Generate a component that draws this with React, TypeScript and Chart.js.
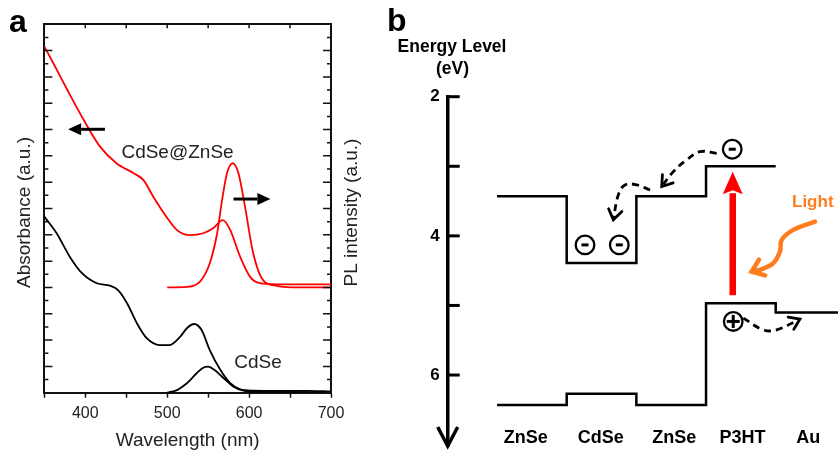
import React, { useEffect, useRef } from 'react';
import { Chart, registerables } from 'chart.js';

Chart.register(...registerables);

const FONT = "'Liberation Sans', Arial, Helvetica, sans-serif";

// ---------------- Panel a data ----------------
const wavelengthTickValues = [350, 400, 450, 500, 550, 600, 650, 700];
const wavelengthTickLabels = [400, 500, 600, 700];
const intensityTickValues = [0, 0.5, 1, 1.5, 2, 2.5, 3, 3.5, 4, 4.5, 5, 5.5, 6, 6.5, 7, 7.5, 8, 8.5, 9, 9.5, 10, 10.5, 11, 11.5, 12, 12.5, 13, 13.5, 14];

const absShellNm = [350, 361, 377, 398, 418, 438, 459, 471, 483, 499, 512, 528, 544, 556, 568, 577, 589, 601, 613, 634, 660, 700];
const absShellVal = [13.15, 12.52, 11.57, 10.37, 9.35, 8.72, 8.34, 8.08, 7.45, 6.69, 6.18, 5.99, 6.06, 6.25, 6.56, 6.18, 5.17, 4.41, 4.16, 4.12, 4.12, 4.12];

const plShellNm = [500, 524, 540, 552, 561, 567, 573, 580, 587, 595, 605, 617, 634, 660, 700];
const plShellVal = [4.0, 4.02, 4.22, 4.92, 6.06, 7.32, 8.34, 8.72, 8.34, 7.07, 5.3, 4.28, 4.06, 4.0, 4.0];

const absCoreNm = [350, 365, 381, 396, 414, 430, 440, 451, 463, 475, 491, 503, 516, 524, 533, 542, 552, 565, 577, 589, 605, 640, 670, 700];
const absCoreVal = [6.69, 6.06, 5.17, 4.54, 4.16, 4.07, 3.9, 3.4, 2.64, 2.07, 1.81, 1.81, 2.13, 2.45, 2.61, 2.38, 1.62, 0.86, 0.36, 0.13, 0.08, 0.07, 0.07, 0.05];

const plCoreNm = [500, 512, 524, 536, 544, 550, 558, 569, 581, 593, 610, 700];
const plCoreVal = [0, 0.1, 0.36, 0.74, 0.95, 0.99, 0.86, 0.55, 0.23, 0.08, 0.03, 0.02];

const absArrowNm = [424, 379];
const absArrowVal = [10.01, 10.01];
const plArrowNm = [581, 626];
const plArrowVal = [7.36, 7.36];

const sampleLabels = ['CdSe@ZnSe', 'CdSe'];
const sampleLabelNm = [512.6, 610.9];
const sampleLabelVal = [8.91, 0.93];

// ---------------- Panel b data ----------------
const layerNames = ['ZnSe', 'CdSe', 'ZnSe', 'P3HT', 'Au'];
const layerBounds = [0, 1, 2, 3, 4, 4.894];
const layerLabelX = [0.413, 1.49, 2.543, 3.523, 4.468];
const cbLevels = [3.43, 4.39, 3.43, 3.0];
const vbLevels = [6.43, 6.27, 6.43, 4.97, 5.1];
const energyTicks = [2, 3, 4, 5, 6];
const energyTickLabels = [2, 4, 6];

const electronX = [1.263, 1.755, 3.376];
const electronY = [4.13, 4.13, 2.755];
const holeX = [3.39];
const holeY = [5.23];

const excitationX = [3.383, 3.383];
const excitationY = [4.853, 3.387];
const excitationTipY = 3.077;

const transfer1X = [3.153, 2.913, 2.722, 2.53, 2.364];
const transfer1Y = [2.813, 2.79, 2.909, 3.077, 3.292];
const transfer2X = [2.196, 2.005, 1.837, 1.741, 1.669];
const transfer2Y = [3.34, 3.268, 3.268, 3.411, 3.77];
const transfer3X = [3.535, 3.822, 4.014, 4.348];
const transfer3Y = [5.182, 5.35, 5.35, 5.196];
const lightX = [4.564, 4.252, 4.086, 4.061, 3.965, 3.774, 3.655];
const lightY = [3.795, 3.914, 4.058, 4.225, 4.392, 4.488, 4.513];
const lightLabelX = 4.532;
const lightLabelY = 3.584;

const ORANGE = '#ff7d1e';

function pts(xs: number[], ys: number[]) {
  return xs.map((x, i) => ({ x, y: ys[i] }));
}

function stepPath(bounds: number[], levels: number[]) {
  const out: { x: number; y: number }[] = [];
  levels.forEach((lv, i) => {
    out.push({ x: bounds[i], y: lv });
    out.push({ x: bounds[i + 1], y: lv });
  });
  return out;
}

function filledArrow(ctx: CanvasRenderingContext2D, x0: number, y0: number, x1: number, y1: number, lw: number, headLen: number, headHalf: number, color: string) {
  const ang = Math.atan2(y1 - y0, x1 - x0);
  const bx = x1 - headLen * Math.cos(ang);
  const by = y1 - headLen * Math.sin(ang);
  ctx.save();
  ctx.strokeStyle = color;
  ctx.lineWidth = lw;
  ctx.lineCap = 'butt';
  ctx.beginPath();
  ctx.moveTo(x0, y0);
  ctx.lineTo(bx, by);
  ctx.stroke();
  ctx.fillStyle = color;
  ctx.beginPath();
  ctx.moveTo(x1, y1);
  ctx.lineTo(bx + headHalf * Math.sin(ang), by - headHalf * Math.cos(ang));
  ctx.lineTo(bx - headHalf * Math.sin(ang), by + headHalf * Math.cos(ang));
  ctx.closePath();
  ctx.fill();
  ctx.restore();
}

function openHead(ctx: CanvasRenderingContext2D, tipX: number, tipY: number, fromX: number, fromY: number, len: number, half: number, lw: number, color: string) {
  const ang = Math.atan2(tipY - fromY, tipX - fromX);
  ctx.save();
  ctx.setLineDash([]);
  ctx.strokeStyle = color;
  ctx.lineWidth = lw;
  ctx.lineCap = 'round';
  ctx.lineJoin = 'miter';
  ctx.beginPath();
  ctx.moveTo(tipX - len * Math.cos(ang - half), tipY - len * Math.sin(ang - half));
  ctx.lineTo(tipX, tipY);
  ctx.lineTo(tipX - len * Math.cos(ang + half), tipY - len * Math.sin(ang + half));
  ctx.stroke();
  ctx.restore();
}

const zeroPad = (s: any) => {
  s.paddingTop = 0;
  s.paddingBottom = 0;
  s.paddingLeft = 0;
  s.paddingRight = 0;
};

const panelAPlugin = {
  id: 'panelA',
  afterDraw(chart: any) {
    const { ctx, chartArea: ca, scales } = chart;
    const x = scales.x;
    const y = scales.y;
    ctx.save();
    ctx.strokeStyle = '#111';
    ctx.lineWidth = 1.5;
    y.ticks.forEach((t: any) => {
      const py = y.getPixelForValue(t.value);
      const len = Number.isInteger(t.value) ? 8 : 4;
      ctx.beginPath();
      ctx.moveTo(ca.left, py);
      ctx.lineTo(ca.left + len, py);
      ctx.moveTo(ca.right, py);
      ctx.lineTo(ca.right - len, py);
      ctx.stroke();
    });
    scales.x2.ticks.forEach((t: any) => {
      const px = scales.x2.getPixelForValue(t.value);
      ctx.beginPath();
      ctx.moveTo(px, ca.top);
      ctx.lineTo(px, ca.top + 4);
      ctx.stroke();
    });
    filledArrow(ctx, x.getPixelForValue(absArrowNm[0]), y.getPixelForValue(absArrowVal[0]), x.getPixelForValue(absArrowNm[1]), y.getPixelForValue(absArrowVal[1]), 3, 13, 6, '#000');
    filledArrow(ctx, x.getPixelForValue(plArrowNm[0]), y.getPixelForValue(plArrowVal[0]), x.getPixelForValue(plArrowNm[1]), y.getPixelForValue(plArrowVal[1]), 3, 13, 6, '#000');
    ctx.fillStyle = '#222';
    ctx.font = `19px ${FONT}`;
    ctx.textAlign = 'center';
    ctx.textBaseline = 'alphabetic';
    sampleLabels.forEach((s, i) => {
      ctx.fillText(s, x.getPixelForValue(sampleLabelNm[i]), y.getPixelForValue(sampleLabelVal[i]));
    });
    const midY = 212.5;
    ctx.textBaseline = 'middle';
    ctx.save();
    ctx.translate(25, midY);
    ctx.rotate(-Math.PI / 2);
    ctx.fillText('Absorbance (a.u.)', 0, 0);
    ctx.restore();
    ctx.save();
    ctx.translate(ca.right + 21, midY);
    ctx.rotate(-Math.PI / 2);
    ctx.fillText('PL intensity (a.u.)', 0, 0);
    ctx.restore();
    ctx.fillStyle = '#000';
    ctx.font = `bold 32px ${FONT}`;
    ctx.textAlign = 'left';
    ctx.textBaseline = 'alphabetic';
    ctx.fillText('a', 9, 32);
    ctx.restore();
  },
};

const panelBPlugin = {
  id: 'panelB',
  afterDraw(chart: any) {
    const { ctx, chartArea: ca, scales } = chart;
    const x = scales.x;
    const y = scales.y;
    const X = (v: number) => x.getPixelForValue(v);
    const Y = (v: number) => y.getPixelForValue(v);
    ctx.save();
    ctx.strokeStyle = '#000';
    ctx.lineWidth = 3;
    ctx.lineCap = 'butt';
    energyTicks.forEach((v) => {
      const py = Y(v);
      ctx.beginPath();
      ctx.moveTo(ca.left - 1.7, py);
      ctx.lineTo(ca.left + 12, py);
      ctx.stroke();
    });
    ctx.lineWidth = 3.5;
    ctx.lineJoin = 'miter';
    ctx.beginPath();
    ctx.moveTo(ca.left - 10, ca.bottom - 19);
    ctx.lineTo(ca.left, ca.bottom);
    ctx.lineTo(ca.left + 10, ca.bottom - 19);
    ctx.stroke();

    {
      const tx = X(excitationX[1]);
      const ty = Y(excitationTipY);
      const by = Y(excitationY[1]);
      ctx.fillStyle = '#ff0000';
      ctx.beginPath();
      ctx.moveTo(tx, ty);
      ctx.lineTo(tx + 10, by + 1);
      ctx.lineTo(tx, by - 3);
      ctx.lineTo(tx - 10, by + 1);
      ctx.closePath();
      ctx.fill();
    }

    const heads: [number[], number[]][] = [
      [transfer1X, transfer1Y],
      [transfer2X, transfer2Y],
      [transfer3X, transfer3Y],
    ];
    heads.forEach(([xs, ys]) => {
      const n = xs.length;
      openHead(ctx, X(xs[n - 1]), Y(ys[n - 1]), X(xs[n - 2]), Y(ys[n - 2]), 12, 0.6, 2.8, '#000');
    });
    {
      const n = lightX.length;
      openHead(ctx, X(lightX[n - 1]), Y(lightY[n - 1]), X(lightX[n - 3]), Y(lightY[n - 3]), 14, 0.65, 4.5, ORANGE);
    }

    ctx.lineWidth = 2.3;
    ctx.strokeStyle = '#000';
    electronX.forEach((ex, i) => {
      const cx = X(ex);
      const cy = Y(electronY[i]);
      ctx.fillStyle = '#fff';
      ctx.beginPath();
      ctx.arc(cx, cy, 9.3, 0, Math.PI * 2);
      ctx.fill();
      ctx.stroke();
      ctx.fillStyle = '#000';
      ctx.fillRect(cx - 3.5, cy - 1.5, 7, 3);
    });
    holeX.forEach((hx, i) => {
      const cx = X(hx);
      const cy = Y(holeY[i]);
      ctx.fillStyle = '#fff';
      ctx.beginPath();
      ctx.arc(cx, cy, 9.3, 0, Math.PI * 2);
      ctx.fill();
      ctx.stroke();
      ctx.fillStyle = '#000';
      ctx.fillRect(cx - 6.5, cy - 1.5, 13, 3);
      ctx.fillRect(cx - 1.5, cy - 6.5, 3, 13);
    });

    ctx.fillStyle = '#000';
    ctx.textAlign = 'center';
    ctx.textBaseline = 'alphabetic';
    ctx.font = `bold 17.5px ${FONT}`;
    ctx.fillText('Energy Level', ca.left + 4.3, ca.top - 44.7);
    ctx.fillText('(eV)', ca.left + 4.8, ca.top - 22.7);
    ctx.font = `bold 18px ${FONT}`;
    layerNames.forEach((nm, i) => {
      ctx.fillText(nm, X(layerLabelX[i]), 443.3);
    });
    ctx.fillStyle = ORANGE;
    ctx.font = `bold 17px ${FONT}`;
    ctx.fillText('Light', X(lightLabelX), Y(lightLabelY));
    ctx.fillStyle = '#000';
    ctx.font = `bold 32px ${FONT}`;
    ctx.textAlign = 'left';
    ctx.fillText('b', ca.left - 60.7, 31);
    ctx.restore();
  },
};

function PanelA() {
  const ref = useRef<HTMLCanvasElement | null>(null);
  useEffect(() => {
    if (!ref.current) return;
    const line = (data: any, color: string, axis: string) => ({
      data,
      showLine: true,
      borderColor: color,
      borderWidth: 1.8,
      pointRadius: 0,
      tension: 0.4,
      cubicInterpolationMode: 'monotone',
      fill: false,
      yAxisID: axis,
    });
    const tickSetter = (vals: number[]) => (s: any) => {
      s.ticks = vals.map((v) => ({ value: v }));
    };
    const chart = new Chart(ref.current, {
      type: 'scatter',
      data: {
        datasets: [
          line(pts(absShellNm, absShellVal), '#ff0000', 'y'),
          line(pts(plShellNm, plShellVal), '#ff0000', 'y2'),
          line(pts(absCoreNm, absCoreVal), '#000000', 'y'),
          line(pts(plCoreNm, plCoreVal), '#000000', 'y2'),
        ] as any,
      },
      options: {
        animation: false,
        responsive: false,
        events: [],
        layout: { padding: 0 },
        plugins: { legend: { display: false }, tooltip: { enabled: false } },
        scales: {
          x: {
            type: 'linear',
            position: 'bottom',
            min: 350,
            max: 700,
            afterBuildTicks: tickSetter(wavelengthTickValues),
            ticks: {
              autoSkip: false,
              maxRotation: 0,
              padding: 8,
              color: '#222',
              font: { family: FONT, size: 16, lineHeight: 1 },
              callback: (v: any) => (wavelengthTickLabels.includes(Number(v)) ? String(v) : ''),
            },
            grid: { drawOnChartArea: false, drawTicks: true, tickLength: 5, tickColor: '#111', tickWidth: 1.5 },
            border: { display: true, color: '#111', width: 2 },
            title: {
              display: true,
              text: 'Wavelength (nm)',
              color: '#222',
              font: { family: FONT, size: 19, lineHeight: 1 },
              padding: { top: 0, bottom: 2 },
            },
            afterFit: (s: any) => {
              s.height = 59.3;
              zeroPad(s);
            },
          },
          x2: {
            type: 'linear',
            position: 'top',
            min: 350,
            max: 700,
            afterBuildTicks: tickSetter(wavelengthTickValues),
            ticks: { display: false },
            grid: { display: false, drawTicks: false },
            border: { display: true, color: '#111', width: 2 },
            afterFit: (s: any) => {
              s.height = 24.3;
              zeroPad(s);
            },
          },
          y: {
            type: 'linear',
            position: 'left',
            min: 0,
            max: 14,
            afterBuildTicks: tickSetter(intensityTickValues),
            ticks: { display: false },
            grid: { display: false, drawTicks: false },
            border: { display: true, color: '#111', width: 2 },
            afterFit: (s: any) => {
              s.width = 44.35;
              zeroPad(s);
            },
          },
          y2: {
            type: 'linear',
            position: 'right',
            min: 0,
            max: 14,
            afterBuildTicks: tickSetter(intensityTickValues),
            ticks: { display: false },
            grid: { display: false, drawTicks: false },
            border: { display: true, color: '#111', width: 2 },
            afterFit: (s: any) => {
              s.width = 69;
              zeroPad(s);
            },
          },
        },
      } as any,
      plugins: [panelAPlugin as any],
    });
    return () => chart.destroy();
  }, []);
  return <canvas ref={ref} width={400} height={452} style={{ position: 'absolute', left: 0, top: 0, width: 400, height: 452 }} />;
}

function PanelB() {
  const ref = useRef<HTMLCanvasElement | null>(null);
  useEffect(() => {
    if (!ref.current) return;
    const seg = (data: any, color: string, width: number, extra: any = {}) => ({
      data,
      showLine: true,
      borderColor: color,
      borderWidth: width,
      pointRadius: 0,
      tension: 0,
      fill: false,
      clip: false,
      ...extra,
    });
    const chart = new Chart(ref.current, {
      type: 'scatter',
      data: {
        datasets: [
          seg(stepPath(layerBounds, cbLevels), '#000', 2.5, { borderJoinStyle: 'miter' }),
          seg(stepPath(layerBounds, vbLevels), '#000', 2.5, { borderJoinStyle: 'miter' }),
          seg(pts(excitationX, excitationY), '#ff0000', 6.5),
          seg(pts(transfer1X, transfer1Y), '#000', 2.8, { borderDash: [7, 5], tension: 0.4 }),
          seg(pts(transfer2X, transfer2Y), '#000', 2.8, { borderDash: [7, 5], tension: 0.4 }),
          seg(pts(transfer3X, transfer3Y), '#000', 2.8, { borderDash: [7, 5], tension: 0.4 }),
          seg(pts(lightX, lightY), ORANGE, 4.5, { tension: 0.4, borderCapStyle: 'round' }),
        ] as any,
      },
      options: {
        animation: false,
        responsive: false,
        events: [],
        layout: { padding: { top: 96.7, bottom: 6, left: 0, right: 0 } },
        plugins: { legend: { display: false }, tooltip: { enabled: false } },
        scales: {
          x: { type: 'linear', min: -0.708, max: 4.894, display: false },
          y: {
            type: 'linear',
            position: 'left',
            reverse: true,
            min: 2,
            max: 7.02,
            afterBuildTicks: (s: any) => {
              s.ticks = energyTicks.map((v) => ({ value: v }));
            },
            ticks: {
              padding: 8,
              color: '#000',
              font: { family: FONT, size: 17, weight: 'bold' },
              callback: (v: any) => (energyTickLabels.includes(Number(v)) ? String(v) : ''),
            },
            grid: { display: false, drawTicks: false },
            border: { display: true, color: '#000', width: 3.5 },
            afterFit: (s: any) => {
              s.width = 67.7;
              zeroPad(s);
            },
          },
        },
      } as any,
      plugins: [panelBPlugin as any],
    });
    return () => chart.destroy();
  }, []);
  return <canvas ref={ref} width={458} height={452} style={{ position: 'absolute', left: 380, top: 0, width: 458, height: 452 }} />;
}

export default function App() {
  return (
    <div style={{ position: 'fixed', left: 0, top: 0, width: 838, height: 452, background: '#fff', overflow: 'hidden' }}>
      <PanelA />
      <PanelB />
    </div>
  );
}
